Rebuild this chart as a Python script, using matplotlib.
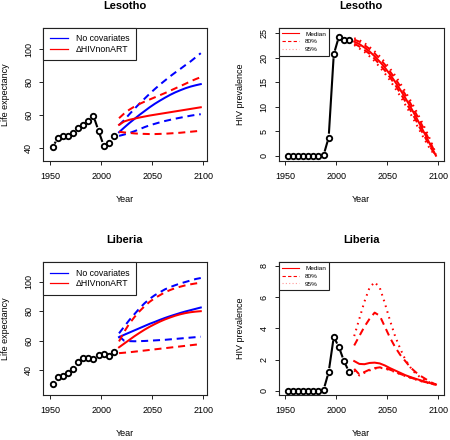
import numpy as np
import matplotlib
matplotlib.use('Agg')
import matplotlib.pyplot as plt
from matplotlib.lines import Line2D

plt.rcParams['font.family'] = ['Liberation Sans', 'DejaVu Sans']

# ---------------- data ----------------
hist_years = [1952.5, 1957.5, 1962.5, 1967.5, 1972.5, 1977.5, 1982.5,
              1987.5, 1992.5, 1997.5, 2002.5, 2007.5, 2012.5]
proj_years = [2017.5, 2022.5, 2027.5, 2032.5, 2037.5, 2042.5, 2047.5, 2052.5,
              2057.5, 2062.5, 2067.5, 2072.5, 2077.5, 2082.5, 2087.5, 2092.5, 2097.5]

# Lesotho life expectancy
les_le_hist = [40.8, 46.0, 47.3, 47.3, 49.5, 52.2, 54.3, 56.7, 59.5, 50.5, 41.6, 43.4, 47.3]
les_nocov_med = [49.7, 52.5, 55.2, 57.7, 60.2, 62.5, 64.8, 66.9, 68.8, 70.6, 72.3, 73.8, 75.1, 76.3, 77.3, 78.1, 78.8]
les_nocov_hi = [54.0, 57.0, 60.5, 63.8, 67.0, 70.0, 73.0, 75.8, 78.5, 81.0, 83.5, 85.8, 88.0, 90.3, 92.5, 95.0, 97.5]
les_nocov_lo = [47.5, 48.3, 49.2, 50.3, 51.5, 52.8, 53.9, 54.8, 55.7, 56.5, 57.2, 57.9, 58.5, 59.1, 59.7, 60.2, 60.6]
les_hiv_med = [54.2, 56.2, 57.2, 57.9, 58.6, 59.2, 59.8, 60.3, 60.8, 61.3, 61.8, 62.3, 62.8, 63.3, 63.8, 64.3, 64.8]
les_hiv_hi = [58.2, 61.0, 63.3, 65.2, 66.8, 68.2, 69.5, 70.8, 72.1, 73.4, 74.8, 76.2, 77.6, 79.0, 80.5, 81.8, 83.0]
les_hiv_lo = [50.0, 49.6, 49.3, 49.0, 48.8, 48.7, 48.6, 48.6, 48.7, 48.8, 49.0, 49.2, 49.4, 49.7, 50.0, 50.3, 50.6]

# Liberia life expectancy
lib_le_hist = [30.8, 35.0, 36.0, 38.0, 41.0, 45.3, 48.0, 48.0, 47.5, 50.5, 50.8, 49.8, 52.0]
lib_nocov_med = [62.4, 64.0, 65.5, 67.0, 68.5, 70.0, 71.5, 72.8, 74.2, 75.5, 76.7, 77.8, 78.9, 79.9, 80.8, 81.7, 82.6]
lib_nocov_hi = [65.0, 69.5, 74.0, 78.0, 82.0, 85.5, 88.5, 91.0, 93.0, 95.0, 96.5, 97.8, 99.0, 100.0, 101.0, 102.0, 102.7]
lib_nocov_lo = [63.0, 60.0, 59.7, 59.6, 59.7, 59.8, 60.0, 60.2, 60.4, 60.6, 60.9, 61.2, 61.5, 61.8, 62.1, 62.4, 62.7]
lib_hiv_med = [55.5, 58.0, 60.5, 63.0, 65.3, 67.5, 69.5, 71.3, 73.0, 74.5, 75.8, 77.0, 78.0, 78.8, 79.4, 79.8, 80.1]
lib_hiv_hi = [59.5, 66.0, 71.5, 76.0, 80.0, 83.5, 86.5, 89.0, 91.0, 93.0, 94.5, 95.8, 96.8, 97.7, 98.4, 99.0, 99.5]
lib_hiv_lo = [51.5, 51.8, 52.1, 52.5, 52.9, 53.3, 53.7, 54.1, 54.5, 54.9, 55.3, 55.7, 56.1, 56.5, 56.9, 57.3, 57.7]

# Lesotho HIV prevalence
les_prev_hist = [0, 0, 0, 0, 0, 0, 0, 0.1, 3.7, 20.7, 24.3, 23.6, 23.55]
les_prev_med = [23.3, 22.8, 22.1, 21.3, 20.3, 19.2, 18.0, 16.6, 15.1, 13.5, 11.8, 10.0, 8.1, 6.1, 4.1, 2.0, 0.0]
les_prev_80hi = [23.7, 23.3, 22.6, 21.8, 20.9, 19.8, 18.6, 17.2, 15.8, 14.2, 12.5, 10.7, 8.8, 6.8, 4.7, 2.5, 0.2]
les_prev_80lo = [22.9, 22.3, 21.6, 20.8, 19.8, 18.6, 17.4, 16.0, 14.5, 12.8, 11.1, 9.3, 7.4, 5.4, 3.5, 1.6, 0.0]
les_prev_95hi = [24.0, 23.6, 23.0, 22.2, 21.3, 20.3, 19.1, 17.8, 16.4, 14.8, 13.1, 11.3, 9.4, 7.4, 5.3, 3.0, 0.4]
les_prev_95lo = [22.6, 21.9, 21.2, 20.3, 19.3, 18.1, 16.8, 15.4, 13.8, 12.2, 10.4, 8.6, 6.7, 4.8, 2.9, 1.1, 0.0]

# Liberia HIV prevalence
lib_prev_hist = [0, 0, 0, 0, 0, 0, 0, 0.05, 1.2, 3.45, 2.8, 1.9, 1.2]
lib_prev_med = [1.9, 1.72, 1.7, 1.78, 1.8, 1.75, 1.62, 1.45, 1.3, 1.15, 1.0, 0.88, 0.77, 0.67, 0.57, 0.48, 0.4]
lib_prev_80hi = [2.9, 3.5, 4.1, 4.6, 5.0, 4.8, 4.1, 3.4, 2.8, 2.3, 1.9, 1.5, 1.2, 0.95, 0.75, 0.55, 0.4]
lib_prev_80lo = [1.4, 1.05, 1.2, 1.35, 1.45, 1.5, 1.45, 1.35, 1.22, 1.08, 0.96, 0.85, 0.74, 0.64, 0.55, 0.47, 0.39]
lib_prev_95hi = [3.5, 4.6, 5.7, 6.6, 6.95, 6.6, 5.6, 4.5, 3.5, 2.7, 2.0, 1.5, 1.1, 0.85, 0.65, 0.5, 0.4]
lib_prev_95lo = [1.3, 0.98, 1.15, 1.3, 1.42, 1.47, 1.42, 1.32, 1.2, 1.06, 0.94, 0.83, 0.72, 0.62, 0.53, 0.46, 0.38]

countries = ['Lesotho', 'Liberia']
le_ticks = [40, 60, 80, 100]
les_prev_ticks = [0, 5, 10, 15, 20, 25]
lib_prev_ticks = [0, 2, 4, 6, 8]
year_ticks = [1950, 2000, 2050, 2100]

# ---------------- style ----------------
W, H = 450, 440
fig = plt.figure(figsize=(W / 100, H / 100), dpi=100)

FS = 6.5
LW = 1.45
DASH = (0, (3.5, 2.4))
DOT = (0, (0.8, 2.2))
BLUE = '#0000FF'
RED = '#FF0000'


def make_ax(x0, x1, ytop, ybot):
    ax = fig.add_axes([x0 / W, 1 - ybot / H, (x1 - x0) / W, (ybot - ytop) / H])
    for s in ax.spines.values():
        s.set_linewidth(0.8)
        s.set_color('#222222')
    ax.tick_params(direction='out', length=3.2, width=0.7, labelsize=FS,
                   color='#222222')
    ax.tick_params(axis='x', pad=5.0)
    ax.tick_params(axis='y', pad=4.0)
    return ax


def decorate(ax, title, ylabel, ylab_x):
    ax.set_xticks(year_ticks)
    ax.set_xticklabels([str(t) for t in year_ticks])
    for lab in ax.get_yticklabels():
        lab.set_rotation(90)
        lab.set_va('center')
    ax.text(0.5, 1.165, title, transform=ax.transAxes, ha='center', va='center',
            fontsize=8.0, fontweight='bold')
    ax.text(0.5, -0.288, 'Year', transform=ax.transAxes, ha='center', va='center',
            fontsize=FS)
    ax.text(ylab_x, 0.5, ylabel, transform=ax.transAxes, ha='center', va='center',
            rotation=90, fontsize=FS)


def draw_b(ax, x, y, gap_px=3.9):
    pts = ax.transData.transform(np.column_stack([x, y]))
    inv = ax.transData.inverted()
    for p0, p1 in zip(pts[:-1], pts[1:]):
        d = p1 - p0
        L = np.hypot(d[0], d[1])
        if L > 2 * gap_px + 0.8:
            u = d / L
            seg = inv.transform(np.vstack([p0 + u * gap_px, p1 - u * gap_px]))
            ax.plot(seg[:, 0], seg[:, 1], color='black', lw=1.5,
                    solid_capstyle='butt')
    ax.plot(x, y, 'o', mfc='none', mec='black', ms=3.9, mew=1.35, zorder=5)


def le_panel(ax, hist, nm, nh, nl, hm, hh, hl, ylim, title):
    ax.set_xlim(1943.4, 2103.3)
    ax.set_ylim(*ylim)
    ax.set_yticks(le_ticks)
    decorate(ax, title, 'Life expectancy', -0.23)
    ax.plot(proj_years, nm, color=BLUE, lw=LW)
    ax.plot(proj_years, nh, color=BLUE, lw=LW, ls=DASH)
    ax.plot(proj_years, nl, color=BLUE, lw=LW, ls=DASH)
    ax.plot(proj_years, hm, color=RED, lw=LW)
    ax.plot(proj_years, hh, color=RED, lw=LW, ls=DASH)
    ax.plot(proj_years, hl, color=RED, lw=LW, ls=DASH)
    draw_b(ax, hist_years, hist)
    handles = [Line2D([], [], color=BLUE, lw=0.9), Line2D([], [], color=RED, lw=0.9)]
    leg = ax.legend(handles, ['No covariates', '\u0394HIVnonART'], loc='upper left',
                    borderaxespad=0, fontsize=6.3, fancybox=False, framealpha=1,
                    edgecolor='#222222', borderpad=0.75, handlelength=2.1,
                    handletextpad=0.9, labelspacing=0.15)
    leg.get_frame().set_linewidth(0.8)


def prev_panel(ax, hist, med, h80, l80, h95, l95, ylim, yticks, title):
    ax.set_xlim(1943.4, 2104.9)
    ax.set_ylim(*ylim)
    ax.set_yticks(yticks)
    decorate(ax, title, 'HIV prevalence', -0.23)
    ax.plot(proj_years, med, color=RED, lw=LW)
    ax.plot(proj_years, h80, color=RED, lw=LW, ls=DASH)
    ax.plot(proj_years, l80, color=RED, lw=LW, ls=DASH)
    ax.plot(proj_years, h95, color=RED, lw=LW, ls=DOT)
    ax.plot(proj_years, l95, color=RED, lw=LW, ls=DOT)
    draw_b(ax, hist_years, hist)
    handles = [Line2D([], [], color=RED, lw=0.8),
               Line2D([], [], color=RED, lw=0.8, ls=(0, (3, 2))),
               Line2D([], [], color='#FF9999', lw=0.8, ls=(0, (1, 2)))]
    leg = ax.legend(handles, ['Median', '80%', '95%'], loc='upper left',
                    borderaxespad=0, fontsize=4.6, fancybox=False, framealpha=1,
                    edgecolor='#222222', borderpad=0.55, handlelength=2.6,
                    handletextpad=1.0, labelspacing=0.35)
    leg.get_frame().set_linewidth(0.8)


ax1 = make_ax(43.3, 206.7, 27.7, 160.7)
le_panel(ax1, les_le_hist, les_nocov_med, les_nocov_hi, les_nocov_lo,
         les_hiv_med, les_hiv_hi, les_hiv_lo, (32.5, 112.9), countries[0])

ax2 = make_ax(278.5, 443.5, 27.7, 160.7)
prev_panel(ax2, les_prev_hist, les_prev_med, les_prev_80hi, les_prev_80lo,
           les_prev_95hi, les_prev_95lo, (-1.02, 26.14), les_prev_ticks, countries[0])

ax3 = make_ax(43.3, 206.7, 262.3, 395.0)
le_panel(ax3, lib_le_hist, lib_nocov_med, lib_nocov_hi, lib_nocov_lo,
         lib_hiv_med, lib_hiv_hi, lib_hiv_lo, (23.0, 113.4), countries[1])

ax4 = make_ax(278.5, 443.5, 262.3, 395.0)
prev_panel(ax4, lib_prev_hist, lib_prev_med, lib_prev_80hi, lib_prev_80lo,
           lib_prev_95hi, lib_prev_95lo, (-0.27, 8.22), lib_prev_ticks, countries[1])

fig.savefig('out.png', dpi=100)
